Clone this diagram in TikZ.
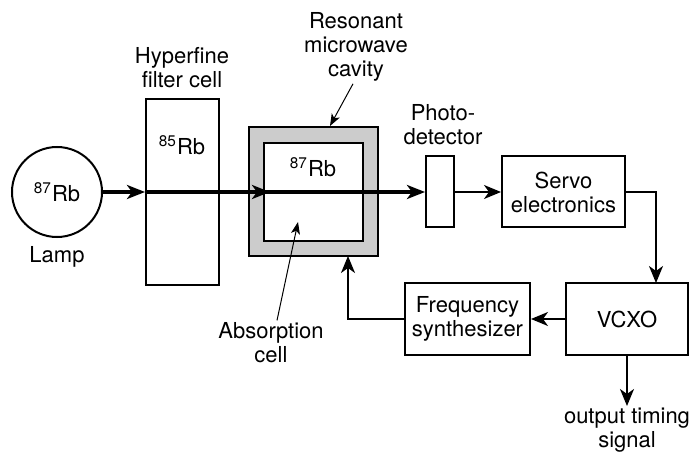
\documentclass[tikz,border=0pt]{standalone}
\usepackage{fontspec}
\setmainfont{TeX Gyre Heros}
\usetikzlibrary{arrows.meta, positioning, calc}
\definecolor{cavgray}{RGB}{204,204,204}
\tikzset{
  block/.style={rectangle, draw=black, fill=white, line width=1pt,
    inner sep=0pt, align=center, font=\lblfont},
  lbl/.style={align=center, font=\lblfont, inner sep=1pt},
  beam/.style={-{Stealth[length=9pt, width=7pt, inset=2.5pt]}, line width=2.1pt},
  conn/.style={-{Stealth[length=8.5pt, width=7pt, inset=2.5pt]}, line width=1pt},
  pointer/.style={-{Stealth[length=6pt, width=4.5pt, inset=1.5pt]}, line width=0.5pt}
}
\newcommand{\lblfont}{\fontsize{11}{12}\selectfont}
\newcommand{\iso}[2]{\textsuperscript{#1}#2}

\begin{document}
\begin{tikzpicture}[x=0.5pt, y=-0.5pt]
  \useasboundingbox (0,0) rectangle (693,455);
  % Lamp
  \node[block, circle, minimum size=45pt] (lamp) at (57,192) {\iso{87}{Rb}};
  \node[lbl] (lamplbl) at (57,257) {Lamp};
  % Hyperfine filter cell
  \node[block, minimum width=36.5pt, minimum height=93pt] (filter) at (182.5,192) {};
  \node[lbl] (filterrb) at (182,145) {\iso{85}{Rb}};
  \node[lbl] (filterlbl) at (182,68) {Hyperfine\\filter cell};
  % Resonant cavity with absorption cell
  \node[block, fill=cavgray, minimum size=64.5pt] (cavity) at (313.5,192) {};
  \node[block, minimum width=49.5pt, minimum height=49pt] (cell) at (313.5,192) {};
  \node[lbl] (cellrb) at (313,167) {\iso{87}{Rb}};
  \node[lbl] (cavlbl) at (356,47) {Resonant\\microwave\\cavity};
  \node[lbl] (celllbl) at (271,343) {Absorption\\cell};
  \coordinate (cavtip) at (330,126);
  \coordinate (celltip) at (298,222);
  % Photodetector and electronics
  \node[block, minimum width=14pt, minimum height=35.5pt] (pd) at (440,192) {};
  \node[lbl] (pdlbl) at (443,125) {Photo-\\detector};
  \node[block, minimum width=61.5pt, minimum height=35.5pt] (servo) at (563.5,192) {Servo\\electronics};
  \node[block, minimum width=61pt, minimum height=36pt] (vcxo) at (627,319) {VCXO};
  \node[block, minimum width=62.5pt, minimum height=36pt] (freq) at (467.5,319) {Frequency\\synthesizer};
  \node[lbl, anchor=north] (outlbl) at (627,406) {output timing\\signal};
  \coordinate (vcxoin) at (656,283);
  \coordinate (fbin) at (348,256);

  % Light beam
  \draw[beam] (lamp.east) -- (filter.west);
  \draw[beam] (filter.west) -- ($(cell.west)+(7,0)$);
  \draw[beam] (cell.west) -- (pd.west);
  % Signal path
  \draw[conn] (pd.east) -- (servo.west);
  \draw[conn] (servo.east) -| (vcxoin);
  \draw[conn] (vcxo.west) -- (freq.east);
  \draw[conn] (freq.west) -| (fbin);
  \draw[conn] (vcxo.south) -- (outlbl.north);
  % Pointers
  \draw[pointer] (cavlbl.south) ++(-3,0) -- (cavtip);
  \draw[pointer] (celllbl.north) ++(6,0) -- (celltip);
\end{tikzpicture}
\end{document}
